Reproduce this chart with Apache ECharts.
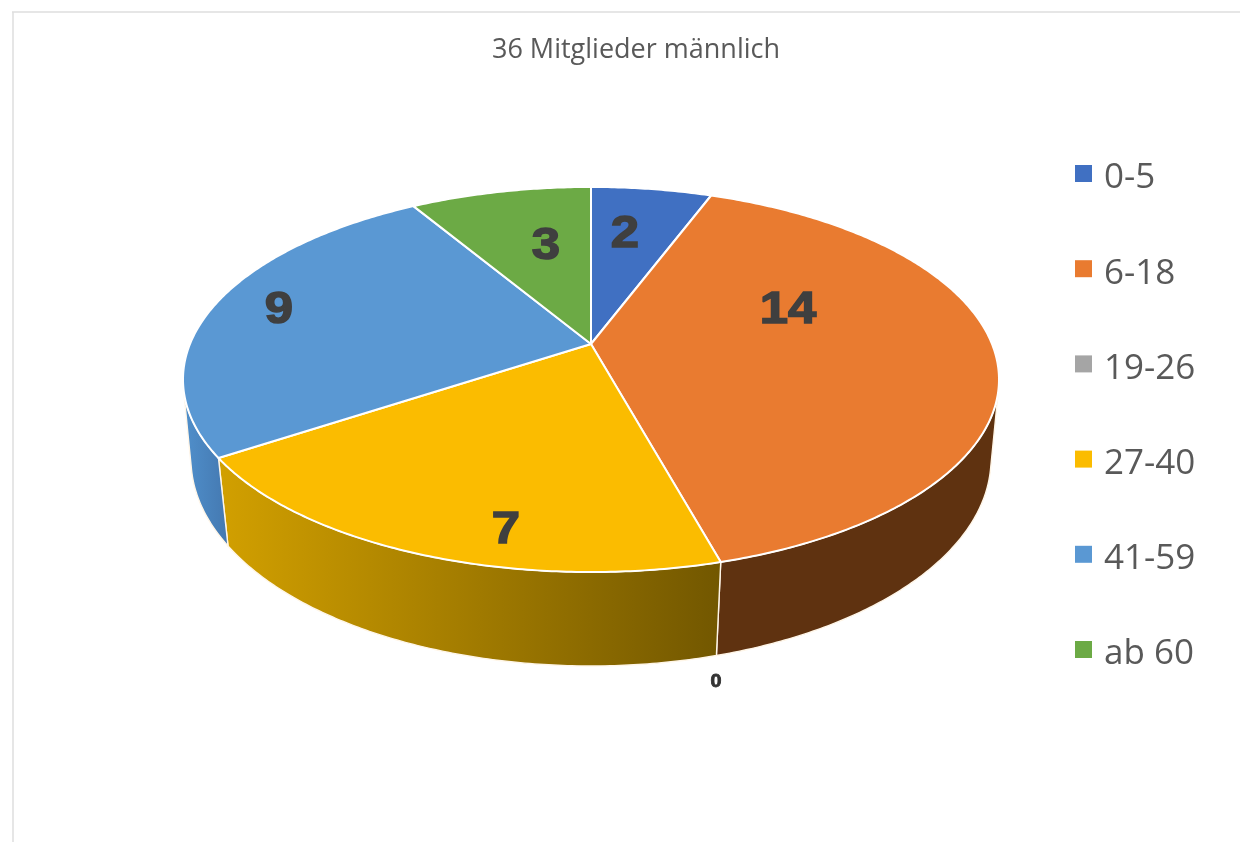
<!DOCTYPE html>
<html>
<head>
<meta charset="utf-8">
<style>html,body{margin:0;padding:0;background:#fff}#c{width:1240px;height:842px}</style>
<script src="https://cdn.jsdelivr.net/npm/echarts@6/dist/echarts.min.js"></script>
</head>
<body>
<div id="c"></div>
<script>
const categories = ['0-5', '6-18', '19-26', '27-40', '41-59', 'ab 60'];
const values = [2, 14, 0, 7, 9, 3];
const colors = ['#4070C2', '#E97B30', '#A5A5A5', '#FBBC00', '#5A98D3', '#6CAA45'];
const wallShades = [
  ['#2A4A80', '#2A4A80'], ['#5F3210', '#5F3210'], ['#6E6E6E', '#6E6E6E'],
  ['#D2A000', '#725700'], ['#5090CC', '#4478B0'], ['#487030', '#487030']
];
const labelSpots = [[625, 232], [788, 308], [716, 680], [506, 528], [279, 308], [546, 244]];

// perspective disc model: angle runs clockwise from the top of the pie
const TOP = { x: 591, y: 344, a: 401, b: 186, p: 0.1844 };
const BOTTOM = { x: 591, y: 423.8, a: 394.2, b: 201, p: 0.17 };
const WALL_FROM = 1.794, WALL_TO = 4.489; // where the side wall's silhouette runs
const total = values.reduce((s, v) => s + v, 0);
const starts = [];
values.reduce((s, v, i) => { starts[i] = s; return s + v; }, 0);
const angleOf = v => v / total * Math.PI * 2;
function project(m, t) {
  const u = Math.sin(t), v = Math.cos(t), d = 1 + m.p * v;
  return [m.x + m.a * u / d, m.y - m.b * v / d];
}
function arc(m, t0, t1) {
  const n = Math.max(2, Math.ceil(Math.abs(t1 - t0) / 0.01));
  const pts = [];
  for (let i = 0; i <= n; i++) pts.push(project(m, t0 + (t1 - t0) * i / n));
  return pts;
}
const BIG = { fontFamily: 'Liberation Sans', fontWeight: 'bold', fontSize: 45, fill: '#3F3F3F', stroke: '#3F3F3F', lineWidth: 1.5, align: 'center', verticalAlign: 'middle' };
const SMALL = { fontFamily: 'Liberation Sans', fontWeight: 'bold', fontSize: 18, fill: '#333333', stroke: '#333333', lineWidth: 0.8, align: 'center', verticalAlign: 'middle' };

function renderTop(i) {
  return function (params, api) {
    const start = api.value(0), value = api.value(1);
    const children = [];
    if (value > 0) {
      const t0 = angleOf(start), t1 = angleOf(start + value);
      children.push({
        type: 'polygon',
        shape: { points: [[TOP.x, TOP.y]].concat(arc(TOP, t0, t1)) },
        style: { fill: colors[i], stroke: '#FFFFFF', lineWidth: 2, lineJoin: 'round' }
      });
    }
    return { type: 'group', children };
  };
}
function renderLabel(params, api) {
  const i = params.dataIndex, value = api.value(1);
  const big = value > 0;
  return {
    type: 'text', x: labelSpots[i][0], y: labelSpots[i][1] + (big ? 3 : 2),
    scaleX: big ? 1.13 : 1.1,
    style: Object.assign({ text: String(value) }, big ? BIG : SMALL)
  };
}
function renderWall(params, api) {
  const i = params.dataIndex, start = api.value(0), value = api.value(1);
  const t0 = Math.max(angleOf(start), WALL_FROM), t1 = Math.min(angleOf(start + value), WALL_TO);
  if (value === 0 || t1 <= t0) return { type: 'group', children: [] };
  return {
    type: 'polygon',
    shape: { points: arc(TOP, t0, t1).concat(arc(BOTTOM, t1, t0)) },
    style: {
      fill: { type: 'linear', x: 0, y: 0, x2: 1, y2: 0, colorStops: [
        { offset: 0, color: wallShades[i][0] }, { offset: 1, color: wallShades[i][1] }] },
      stroke: '#FFF6E8', lineWidth: 1.4, lineJoin: 'round'
    }
  };
}
const rows = values.map((v, i) => [starts[i], v]);
const series = [{
  type: 'custom', name: 'wall', coordinateSystem: 'none', z: 1, silent: true, animation: false,
  renderItem: renderWall, data: rows
}];
categories.forEach((c, i) => series.push({
  type: 'custom', name: c, coordinateSystem: 'none', z: 2, silent: true, animation: false,
  itemStyle: { color: colors[i] }, renderItem: renderTop(i), data: [rows[i]]
}));
series.push({
  type: 'custom', name: 'labels', coordinateSystem: 'none', z: 3, silent: true, animation: false,
  renderItem: renderLabel, data: rows
});

const chart = echarts.init(document.getElementById('c'), null, { renderer: 'canvas' });
chart.setOption({
  animation: false,
  backgroundColor: '#fff',
  color: colors,
  title: {
    text: '36 Mitglieder männlich', left: 631, top: 32, textAlign: 'center',
    textStyle: { fontFamily: 'Open Sans', fontSize: 27, fontWeight: 'normal', color: '#595959' }
  },
  legend: {
    data: categories, orient: 'vertical', left: 1070, top: 154, itemWidth: 17, itemHeight: 17, itemGap: 58.2,
    icon: 'rect', selectedMode: false,
    formatter: name => '{a|' + name + '}',
    textStyle: {
      color: '#595959', padding: [8, 0, 0, 7],
      rich: { a: { fontFamily: 'Open Sans', fontSize: 35, color: '#595959', lineHeight: 38, padding: [2, 0, 0, 0] } }
    }
  },
  graphic: [
    { type: 'line', silent: true, shape: { x1: 12, y1: 12, x2: 1240, y2: 12 }, style: { stroke: '#DEDEDE', lineWidth: 1.5 } },
    { type: 'line', silent: true, shape: { x1: 13, y1: 12, x2: 13, y2: 842 }, style: { stroke: '#DEDEDE', lineWidth: 1.5 } }
  ],
  series
});
</script>
</body>
</html>
